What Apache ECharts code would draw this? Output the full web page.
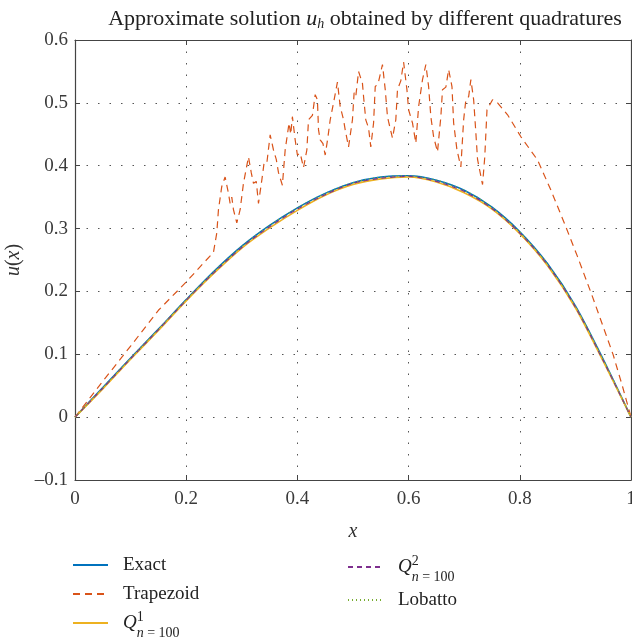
<!DOCTYPE html>
<html>
<head>
<meta charset="utf-8">
<script src="https://cdn.jsdelivr.net/npm/echarts@6/dist/echarts.min.js"></script>
<style>
  html, body { margin: 0; padding: 0; background: #fff; }
  #main { width: 632px; height: 643px; }
</style>
</head>
<body>
<div id="main"></div>
<script>
// grid of x for the smooth curves
const xs = [0, 0.05, 0.1, 0.15, 0.2, 0.25, 0.3, 0.35, 0.4, 0.45, 0.5,
            0.55, 0.6, 0.65, 0.7, 0.75, 0.8, 0.85, 0.9, 0.95, 1];
const exact = [0, 0.047, 0.094, 0.14, 0.187, 0.232, 0.272, 0.305, 0.333, 0.356, 0.373,
               0.382, 0.384, 0.377, 0.361, 0.334, 0.295, 0.244, 0.177, 0.092, 0];
const q1 = [0, 0.045, 0.092, 0.138, 0.185, 0.229, 0.269, 0.301, 0.329, 0.353, 0.370,
            0.379, 0.382, 0.374, 0.357, 0.331, 0.292, 0.241, 0.174, 0.089, 0];
const q2 = [0, 0.046, 0.093, 0.139, 0.186, 0.230, 0.270, 0.303, 0.331, 0.354, 0.372,
            0.380, 0.383, 0.375, 0.359, 0.332, 0.293, 0.242, 0.175, 0.090, 0];
const lobatto = [0, 0.047, 0.094, 0.14, 0.187, 0.232, 0.272, 0.305, 0.333, 0.356, 0.373,
                 0.382, 0.384, 0.377, 0.361, 0.334, 0.295, 0.244, 0.177, 0.092, 0];

// trapezoid rule, read point by point (oscillating part)
const trapX = [0, 0.05, 0.1, 0.15, 0.2, 0.231, 0.249, 0.255, 0.258, 0.264, 0.27, 0.276, 0.279, 0.282,
  0.285, 0.291, 0.297, 0.303, 0.312, 0.317, 0.321, 0.326, 0.33, 0.336, 0.34, 0.345, 0.351, 0.357,
  0.362, 0.366, 0.373, 0.378, 0.385, 0.388, 0.391, 0.396, 0.4, 0.405, 0.411, 0.417, 0.42, 0.427,
  0.432, 0.436, 0.438, 0.441, 0.446, 0.45, 0.455, 0.459, 0.465, 0.472, 0.477, 0.483, 0.486, 0.492,
  0.499, 0.502, 0.505, 0.51, 0.517, 0.519, 0.523, 0.528, 0.532, 0.537, 0.54, 0.545, 0.553, 0.558,
  0.562, 0.564, 0.571, 0.577, 0.58, 0.586, 0.591, 0.597, 0.6, 0.607, 0.613, 0.618, 0.625, 0.631,
  0.636, 0.64, 0.645, 0.652, 0.658, 0.661, 0.667, 0.672, 0.678, 0.681, 0.687, 0.694, 0.699, 0.703,
  0.708, 0.712, 0.717, 0.721, 0.724, 0.733, 0.737, 0.741, 0.751, 0.76, 0.778, 0.802, 0.832, 0.856,
  0.88, 0.904, 0.931, 0.968, 0.985, 1];
const trapY = [0, 0.057, 0.113, 0.17, 0.215, 0.245, 0.262, 0.293, 0.33, 0.367, 0.382, 0.356, 0.34, 0.35,
  0.33, 0.309, 0.33, 0.372, 0.414, 0.389, 0.372, 0.375, 0.34, 0.377, 0.404, 0.404, 0.449, 0.425,
  0.41, 0.389, 0.369, 0.425, 0.468, 0.45, 0.478, 0.441, 0.417, 0.42, 0.397, 0.425, 0.473, 0.48,
  0.513, 0.505, 0.457, 0.441, 0.435, 0.417, 0.446, 0.473, 0.5, 0.533, 0.494, 0.473, 0.457, 0.43,
  0.473, 0.516, 0.51, 0.55, 0.531, 0.51, 0.473, 0.46, 0.43, 0.468, 0.526, 0.53, 0.561, 0.521,
  0.478, 0.47, 0.444, 0.473, 0.521, 0.535, 0.565, 0.521, 0.489, 0.468, 0.436, 0.494, 0.537, 0.561,
  0.526, 0.478, 0.446, 0.422, 0.478, 0.521, 0.525, 0.553, 0.526, 0.468, 0.425, 0.398, 0.473, 0.505,
  0.51, 0.537, 0.505, 0.452, 0.41, 0.37, 0.414, 0.489, 0.505, 0.5, 0.481, 0.446, 0.409, 0.361,
  0.309, 0.255, 0.191, 0.099, 0.048, 0];

function pairs(x, y) {
  return x.map((v, i) => [v, y[i]]);
}

const serif = 'Liberation Serif';
const axisCol = '#444';
const gridLine = { show: true, lineStyle: { color: '#555', type: [1.5, 10], width: 1 } };

const legendRich = {
  q: { fontFamily: serif, fontSize: 19, fontStyle: 'italic', color: '#222', lineHeight: 26 },
  sup: { fontFamily: serif, fontSize: 14, color: '#222', width: 0, align: 'left', verticalAlign: 'top', lineHeight: 26 },
  si: { fontFamily: serif, fontSize: 14, fontStyle: 'italic', color: '#222', verticalAlign: 'top', padding: [16, 0, 0, 0], lineHeight: 26 },
  sub: { fontFamily: serif, fontSize: 14, color: '#222', verticalAlign: 'top', padding: [16, 0, 0, 0], lineHeight: 26 }
};

function legendName(name) {
  if (name === 'Q1') return '{q|Q}{sup|1}{si|n}{sub| = 100}';
  if (name === 'Q2') return '{q|Q}{sup|2}{si|n}{sub| = 100}';
  return name;
}

const legendBase = {
  orient: 'vertical',
  padding: 0,
  itemWidth: 35,
  itemHeight: 14,
  itemGap: 3,
  selectedMode: false,
  itemStyle: { opacity: 0 },
  formatter: legendName,
  textStyle: { fontFamily: serif, fontSize: 19, color: '#222', lineHeight: 26, padding: [0, 0, 0, 10], rich: legendRich }
};

const chart = echarts.init(document.getElementById('main'));
chart.setOption({
  animation: false,
  backgroundColor: '#fff',
  title: {
    text: '{n|Approximate solution }{i|u}{s|h}{n| obtained by different quadratures}',
    left: 360,
    textAlign: 'center',
    top: 2,
    textStyle: {
      fontWeight: 'normal',
      rich: {
        n: { fontFamily: serif, fontSize: 22, fontWeight: 'normal', color: '#222' },
        i: { fontFamily: serif, fontSize: 22, fontWeight: 'normal', fontStyle: 'italic', color: '#222' },
        s: { fontFamily: serif, fontSize: 14, fontWeight: 'normal', fontStyle: 'italic', color: '#222', verticalAlign: 'bottom', padding: [10, 0, 0, 0] }
      }
    }
  },
  grid: { left: 75, right: 1, top: 40, bottom: 163, outerBoundsMode: 'none', containLabel: false },
  legend: [
    Object.assign({}, legendBase, { left: 72, top: 552, data: ['Exact', 'Trapezoid', 'Q1'] }),
    Object.assign({}, legendBase, { left: 347, top: 554, data: ['Q2', 'Lobatto'] })
  ],
  xAxis: [{
    type: 'value', min: 0, max: 1, interval: 0.2,
    name: 'x', nameLocation: 'middle', nameGap: 42,
    nameTextStyle: { fontFamily: serif, fontSize: 20, fontStyle: 'italic', color: '#333' },
    axisLine: { onZero: false, lineStyle: { color: axisCol, width: 1.2 } },
    axisTick: { inside: true, length: 5, lineStyle: { color: axisCol } },
    axisLabel: { fontFamily: serif, fontSize: 19, color: '#3a3a3a', margin: 10 },
    splitLine: gridLine
  }, {
    type: 'value', min: 0, max: 1, interval: 0.2, position: 'top',
    axisLine: { onZero: false, lineStyle: { color: axisCol, width: 1.2 } },
    axisTick: { inside: true, length: 5, lineStyle: { color: axisCol } },
    axisLabel: { show: false },
    splitLine: { show: false }
  }],
  yAxis: [{
    type: 'value', min: -0.1, max: 0.6, interval: 0.1,
    name: '{i|u}{n|(}{i|x}{n|)}', nameLocation: 'middle', nameGap: 51, nameRotate: 90,
    nameTextStyle: {
      rich: {
        i: { fontFamily: serif, fontSize: 20, fontStyle: 'italic', color: '#333' },
        n: { fontFamily: serif, fontSize: 20, color: '#333' }
      }
    },
    axisLine: { show: true, onZero: false, lineStyle: { color: axisCol, width: 1.2 } },
    axisTick: { show: true, inside: true, length: 5, lineStyle: { color: axisCol } },
    axisLabel: {
      fontFamily: serif, fontSize: 19, color: '#3a3a3a', margin: 7,
      formatter: v => {
        const r = Number(v.toFixed(1));
        return r < 0 ? '\u2013' + Math.abs(r) : String(r);
      }
    },
    splitLine: gridLine
  }, {
    type: 'value', min: -0.1, max: 0.6, interval: 0.1, position: 'right',
    axisLine: { show: true, onZero: false, lineStyle: { color: axisCol, width: 1.2 } },
    axisTick: { show: true, inside: true, length: 5, lineStyle: { color: axisCol } },
    axisLabel: { show: false },
    splitLine: { show: false }
  }],
  series: [
    { name: 'Exact', type: 'line', symbol: 'none', smooth: 0.3, data: pairs(xs, exact),
      lineStyle: { color: '#0072BD', width: 1.6 }, itemStyle: { color: '#0072BD' } },
    { name: 'Trapezoid', type: 'line', symbol: 'none', data: pairs(trapX, trapY),
      lineStyle: { color: '#D95319', width: 1.2, type: [7, 5] }, itemStyle: { color: '#D95319' } },
    { name: 'Q1', type: 'line', symbol: 'none', smooth: 0.3, data: pairs(xs, q1),
      lineStyle: { color: '#EDB120', width: 1.6 }, itemStyle: { color: '#EDB120' } },
    { name: 'Q2', type: 'line', symbol: 'none', smooth: 0.3, data: pairs(xs, q2),
      lineStyle: { color: '#7E2F8E', width: 1.2, type: [5, 4] }, itemStyle: { color: '#7E2F8E' } },
    { name: 'Lobatto', type: 'line', symbol: 'none', smooth: 0.3, data: pairs(xs, lobatto),
      lineStyle: { color: '#77AC30', width: 1.2, type: [1, 3] }, itemStyle: { color: '#77AC30' } }
  ]
});
</script>
</body>
</html>
